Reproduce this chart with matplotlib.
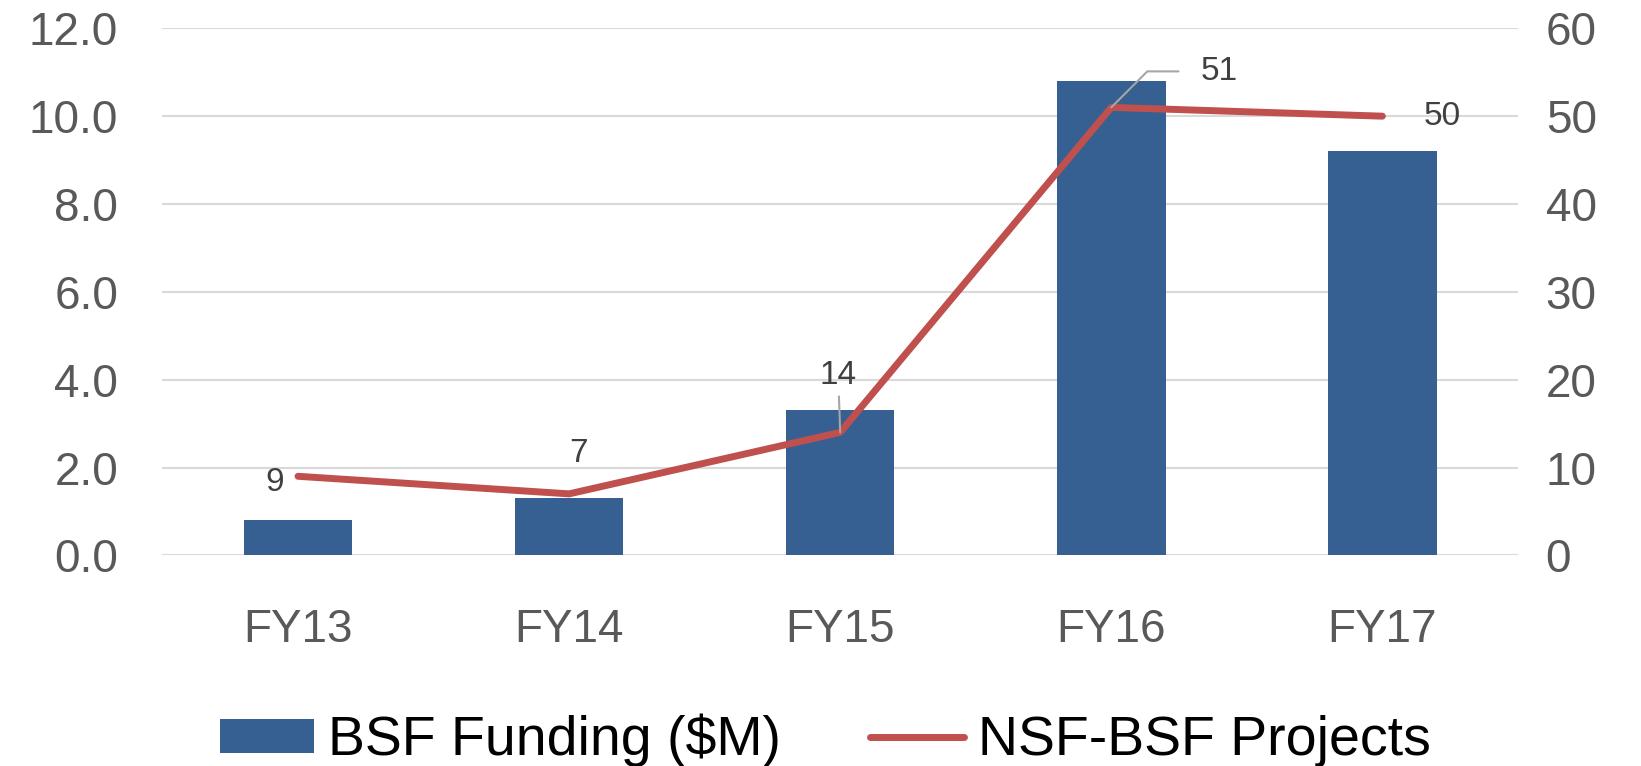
import matplotlib
matplotlib.use("Agg")
import matplotlib.pyplot as plt
import numpy as np

# data
years = ["FY13", "FY14", "FY15", "FY16", "FY17"]
funding = [0.8, 1.3, 3.3, 10.8, 9.2]
projects = [9, 7, 14, 51, 50]

bar_color = "#366092"
line_color = "#C0504D"
tick_color = "#595959"

plt.rcParams['font.family'] = ['Liberation Sans', 'DejaVu Sans']

fig = plt.figure(figsize=(16.41, 7.66), dpi=100)
ax = fig.add_axes([0.099, 0.275, 0.826, 0.688])
ax2 = ax.twinx()

x = np.arange(len(years))
ax.bar(x, funding, width=0.4, color=bar_color, label="BSF Funding ($M)", zorder=2)
ax.set_ylim(0, 12)
ax.set_yticks(np.arange(0, 12.1, 2))
ax.set_yticklabels([f"{v:.1f}" for v in np.arange(0, 12.1, 2)])
ax.set_xlim(-0.5, len(years) - 0.5)
ax.set_xticks(x)
ax.set_xticklabels(years)
ax.grid(axis='y', color="#d9d9d9", linewidth=1.5, zorder=0)
ax.set_axisbelow(True)

ln, = ax2.plot(x, projects, color=line_color, linewidth=5, solid_capstyle='round',
               solid_joinstyle='round', label="NSF-BSF Projects", zorder=3)
ax2.set_ylim(0, 60)
ax2.set_yticks(range(0, 61, 10))

for a in (ax, ax2):
    for s in a.spines.values():
        s.set_visible(False)
    a.tick_params(length=0, labelsize=33, colors=tick_color)
ax.tick_params(axis='x', pad=38)
ax.tick_params(axis='y', pad=32)
ax2.tick_params(axis='y', pad=20)

# data labels
offsets = [(-23, -6), (9, 40), (-2, 57), (108, 36), (60, 0)]
for i, (v, off) in enumerate(zip(projects, offsets)):
    kw = {}
    if i == 2:
        kw = dict(arrowprops=dict(arrowstyle='-', color='#a6a6a6', lw=1.5,
                                  shrinkA=2, shrinkB=0))
    elif i == 3:
        kw = dict(arrowprops=dict(arrowstyle='-', color='#a6a6a6', lw=1.5,
                                  connectionstyle='angle,angleA=0,angleB=45,rad=0',
                                  shrinkA=14, shrinkB=0))
    ax2.annotate(str(v), (x[i], v), xytext=off, textcoords='offset pixels',
                 ha='center', va='center', fontsize=24, color="#404040", **kw)

handles = [ax.patches[0], ln]
fig.legend(handles, ["BSF Funding ($M)", "NSF-BSF Projects"], loc='center',
           bbox_to_anchor=(0.503, 0.033), ncol=2, frameon=False, fontsize=40,
           handlelength=1.7, handleheight=0.56, columnspacing=1.6, handletextpad=0.25,
           borderpad=0)

fig.savefig("out.png", dpi=100)
